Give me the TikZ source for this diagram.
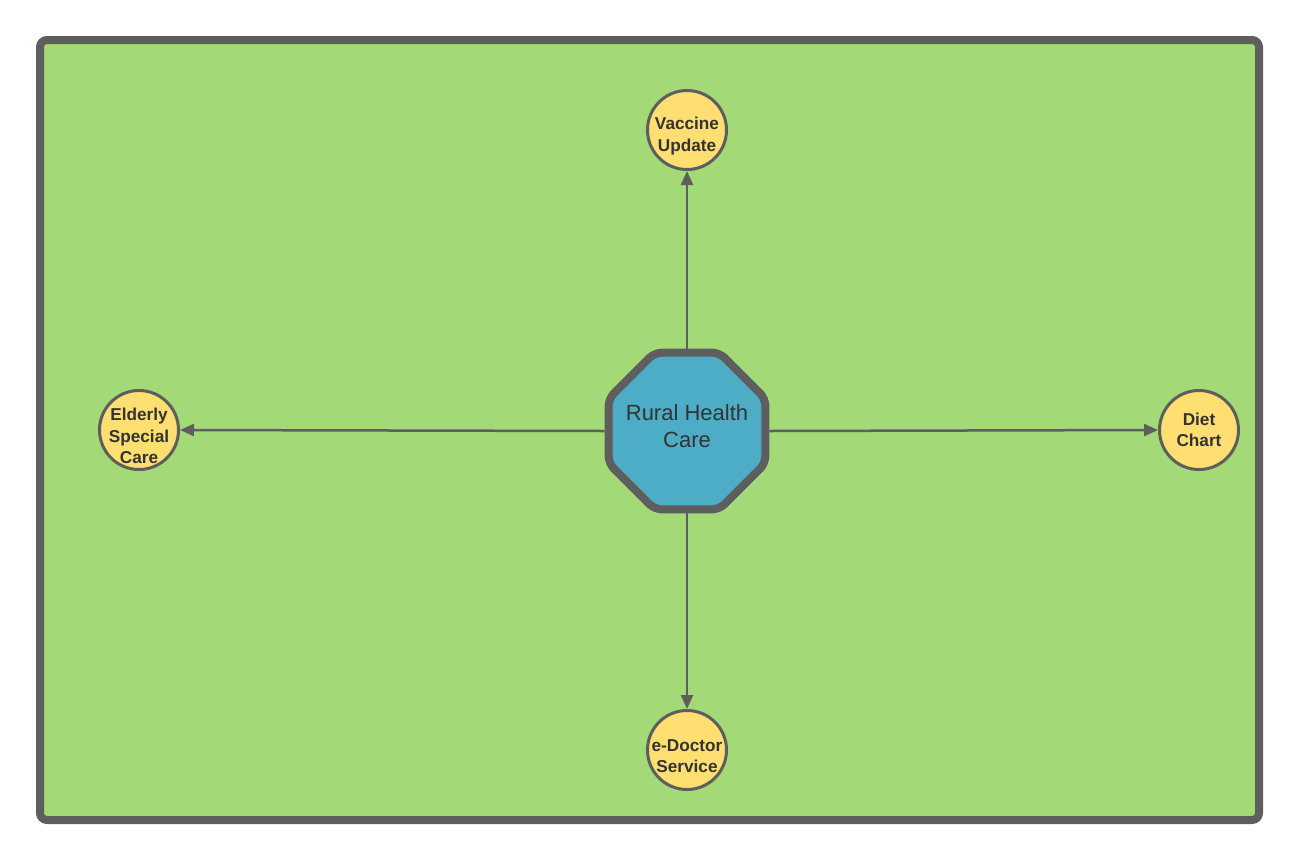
\documentclass[tikz,border=0pt]{standalone}
\usepackage{fontspec}
\setmainfont{Liberation Sans}
\usetikzlibrary{shapes.geometric,arrows.meta}
\definecolor{fieldgreen}{HTML}{A3D977}
\definecolor{bubble}{HTML}{FFDF71}
\definecolor{hubblue}{HTML}{4DADC7}
\definecolor{edge}{HTML}{5E5E5E}
\definecolor{ink}{HTML}{333333}
\tikzset{
  frame/.style={draw=edge, fill=fieldgreen, line width=8pt, rounded corners=7pt,
    inner sep=0pt, rectangle},
  hub/.style={regular polygon, regular polygon sides=8, minimum size=169.5pt,
    draw=edge, fill=hubblue, line width=8pt, rounded corners=7pt, line join=round,
    inner sep=0pt},
  hubtext/.style={text=ink, align=center, inner sep=0pt,
    font=\fontsize{22}{27}\selectfont},
  topic/.style={circle, minimum size=79pt, inner sep=0pt, draw=edge, fill=bubble,
    line width=3pt},
  topictext/.style={text=ink, align=center, inner sep=0pt,
    font=\bfseries\fontsize{17.2}{21.5}\selectfont},
  link/.style={draw=edge, line width=2.5pt,
    -{Triangle[length=14pt,width=12pt]}},
}
\begin{document}
\begin{tikzpicture}[x=1pt, y=-1pt]
  \useasboundingbox (0,0) rectangle (1300,860);
  \node[frame, minimum width=1219pt, minimum height=780pt] (field) at (649.5,430) {};
  \node[hub, label={[hubtext, yshift=5pt]center:Rural Health\\Care}] (hub) at (687,431) {};
  \node[topic, label={[topictext, yshift=-6pt]center:Vaccine\\Update}] (vaccine) at (687,130) {};
  \node[topic, label={[topictext, yshift=-6pt]center:Elderly\\Special\\Care}] (elderly) at (139,430) {};
  \node[topic, label={[topictext]center:Diet\\Chart}] (diet) at (1199,430) {};
  \node[topic, label={[topictext, yshift=-6pt]center:e-Doctor\\Service}] (doctor) at (687,750) {};
  \draw[link] (hub.north) -- (vaccine.south);
  \draw[link] (hub.west) -- (elderly.east);
  \draw[link] (hub.east) -- (diet.west);
  \draw[link] (hub.south) -- (doctor.north);
\end{tikzpicture}
\end{document}
